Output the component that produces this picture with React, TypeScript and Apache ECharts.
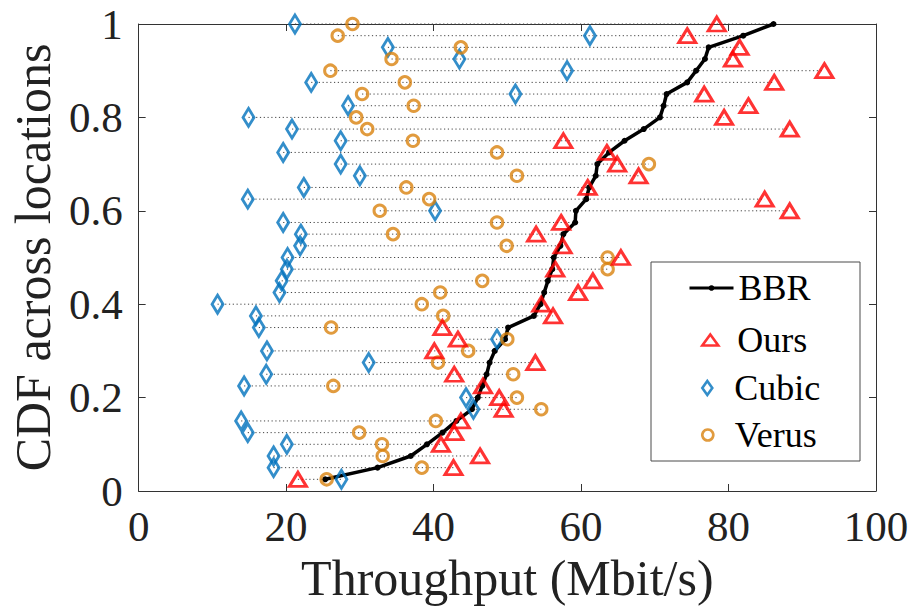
import React, { useEffect, useRef } from 'react';
import * as echarts from 'echarts';

// CDF level of each location (40 locations, sorted by BBR throughput)
const cdf = [
  0.025, 0.05, 0.075, 0.1, 0.125, 0.15, 0.175, 0.2, 0.225, 0.25,
  0.275, 0.3, 0.325, 0.35, 0.375, 0.4, 0.425, 0.45, 0.475, 0.5,
  0.525, 0.55, 0.575, 0.6, 0.625, 0.65, 0.675, 0.7, 0.725, 0.75,
  0.775, 0.8, 0.825, 0.85, 0.875, 0.9, 0.925, 0.95, 0.975, 1.0,
];

// Throughput (Mbit/s) per location
const bbr = [
  25.3, 32.4, 36.9, 39.1, 41.2, 43.1, 45.2, 46.0, 46.6, 47.2,
  47.6, 48.3, 49.7, 50.1, 53.6, 54.5, 55.0, 55.5, 56.1, 56.3,
  57.2, 57.6, 59.2, 59.3, 60.7, 61.1, 62.0, 62.2, 63.8, 65.9,
  68.5, 70.7, 71.2, 71.6, 74.4, 75.6, 76.8, 77.3, 82.0, 86.1,
];
const ours = [
  21.6, 42.7, 46.3, 41.0, 42.8, 43.7, 49.5, 48.9, 46.7, 42.8,
  53.8, 40.1, 43.3, 41.2, 56.2, 54.6, 59.6, 61.6, 56.5, 65.4,
  57.5, 53.9, 57.3, 88.3, 84.9, 60.9, 67.8, 64.9, 63.5, 57.6,
  88.3, 79.4, 82.7, 76.7, 86.2, 93.0, 80.6, 81.5, 74.4, 78.4,
];
const cubic = [
  27.5, 18.3, 18.3, 20.1, 14.8, 13.9, 45.4, 44.4, 14.3, 17.3,
  31.2, 17.4, 48.6, 16.3, 15.9, 10.7, 19.1, 19.4, 20.1, 20.2,
  21.9, 22.0, 19.6, 40.2, 14.8, 22.4, 30.0, 27.4, 19.6, 27.4,
  20.8, 14.9, 28.4, 51.1, 23.4, 58.1, 43.5, 33.8, 61.2, 21.2,
];
const verus = [
  25.5, 38.4, 33.1, 33.0, 29.9, 40.3, 54.6, 51.3, 26.4, 50.8,
  40.6, 44.7, 50.0, 26.1, 41.3, 38.4, 40.9, 46.6, 63.6, 63.6,
  49.9, 34.5, 48.6, 32.7, 39.4, 36.3, 51.3, 69.2, 48.6, 37.2,
  31.0, 29.5, 37.3, 30.3, 36.1, 26.0, 34.3, 43.7, 27.0, 29.0,
];

const FONT = '"Liberation Serif", "Times New Roman", serif';
const AXIS = '#333333';
const TEXT = '#222222';
const RED = '#ff0000';
const BLUE = '#0072bd';
const ORANGE = '#d9820e';

const ICON_TRI = 'path://M8,0L16,11L0,11Z';
const ICON_DIA = 'path://M5,0L10,7L5,14L0,7Z';
const ICON_CIR = 'path://M5.5,0A5.5,5.5,0,1,1,5.49,0Z';

export default function App() {
  const ref = useRef<HTMLDivElement>(null);

  useEffect(() => {
    if (!ref.current) return;
    const chart = echarts.init(ref.current, null, { renderer: 'svg' });

    const spans = cdf.map((y, i) => {
      const vals = [bbr[i], ours[i], cubic[i], verus[i]];
      return [Math.min(...vals), Math.max(...vals), y];
    });
    const pts = (arr: number[]) => arr.map((x, i) => [x, cdf[i]]);

    const axisCommon = {
      type: 'value' as const,
      axisLine: { show: true, onZero: false, lineStyle: { color: AXIS, width: 1 } },
      axisTick: { show: true, inside: true, length: 7, lineStyle: { color: AXIS, width: 1 } },
      splitLine: { show: false },
    };

    const legendText = { fontFamily: FONT, fontSize: 36, color: '#000' };
    const markerLegend = (name: string, icon: string, h: number, top: number) => ({
      data: [{ name, icon }],
      orient: 'vertical',
      left: 701,
      top,
      padding: 0,
      itemWidth: 44,
      itemHeight: h,
      selectedMode: false,
      z: 10,
      textStyle: legendText,
      itemStyle: { borderWidth: 2.6 },
    });

    const option: any = {
      animation: false,
      backgroundColor: '#ffffff',
      grid: { left: 134, right: 41, top: 24, bottom: 122 },
      xAxis: [
        {
          ...axisCommon,
          position: 'bottom',
          min: 0,
          max: 100,
          interval: 20,
          axisLabel: { fontFamily: FONT, fontSize: 43, color: TEXT, margin: 14 },
          name: 'Throughput (Mbit/s)',
          nameLocation: 'middle',
          nameGap: 54,
          nameTextStyle: { fontFamily: FONT, fontSize: 50, color: TEXT },
        },
        {
          ...axisCommon,
          position: 'top',
          min: 0,
          max: 100,
          interval: 20,
          axisLabel: { show: false },
        },
      ],
      yAxis: [
        {
          ...axisCommon,
          position: 'left',
          min: 0,
          max: 1,
          interval: 0.2,
          axisLabel: {
            fontFamily: FONT,
            fontSize: 43,
            color: TEXT,
            margin: 16,
            formatter: (v: number) => String(Math.round(v * 10) / 10),
          },
          name: 'CDF across locations',
          nameLocation: 'middle',
          nameGap: 75,
          nameTextStyle: { fontFamily: FONT, fontSize: 50, color: TEXT },
        },
        {
          ...axisCommon,
          position: 'right',
          min: 0,
          max: 1,
          interval: 0.2,
          axisLabel: { show: false },
        },
      ],
      legend: [
        {
          data: ['BBR'],
          orient: 'vertical',
          left: 688,
          top: 270,
          padding: 0,
          itemWidth: 44,
          itemHeight: 7,
          selectedMode: false,
          z: 10,
          textStyle: legendText,
          lineStyle: { width: 3, color: '#000' },
          itemStyle: { color: '#000', borderWidth: 0 },
        },
        markerLegend('Ours', ICON_TRI, 11, 322),
        markerLegend('Cubic', ICON_DIA, 14, 370),
        markerLegend('Verus', ICON_CIR, 11, 417),
      ],
      graphic: {
        elements: [
          {
            type: 'rect',
            z: 5,
            shape: { x: 651, y: 262, width: 209, height: 199 },
            style: { fill: '#ffffff', stroke: '#4a4a4a', lineWidth: 1 },
            silent: true,
          },
        ],
      },
      series: [
        {
          type: 'custom',
          name: 'levels',
          silent: true,
          z: 1,
          data: spans,
          encode: { x: [0, 1], y: 2 },
          renderItem: (_params: any, api: any) => {
            const p1 = api.coord([api.value(0), api.value(2)]);
            const p2 = api.coord([api.value(1), api.value(2)]);
            return {
              type: 'line',
              shape: { x1: p1[0], y1: p1[1], x2: p2[0], y2: p2[1] },
              style: { stroke: '#444444', lineWidth: 1, lineDash: [1.2, 2.6] },
            };
          },
        },
        {
          type: 'line',
          name: 'BBR',
          data: pts(bbr),
          z: 3,
          clip: false,
          symbol: 'circle',
          symbolSize: 6,
          showSymbol: true,
          lineStyle: { color: '#000', width: 3.5 },
          itemStyle: { color: '#000' },
        },
        {
          type: 'scatter',
          name: 'Cubic',
          data: pts(cubic),
          z: 4,
          symbol: 'diamond',
          symbolSize: [11, 18],
          itemStyle: { color: 'rgba(255,255,255,0)', borderColor: BLUE, borderWidth: 3 },
        },
        {
          type: 'scatter',
          name: 'Verus',
          data: pts(verus),
          z: 4,
          symbol: 'circle',
          symbolSize: 11.5,
          itemStyle: { color: 'rgba(255,255,255,0)', borderColor: ORANGE, borderWidth: 3 },
        },
        {
          type: 'scatter',
          name: 'Ours',
          data: pts(ours),
          z: 4,
          symbol: 'triangle',
          symbolSize: [17, 14],
          itemStyle: { color: 'rgba(255,255,255,0)', borderColor: RED, borderWidth: 3 },
        },
      ],
    };

    chart.setOption(option);
    return () => chart.dispose();
  }, []);

  return (
    <div
      ref={ref}
      style={{ position: 'fixed', left: 0, top: 0, width: 917, height: 613, background: '#fff' }}
    />
  );
}
